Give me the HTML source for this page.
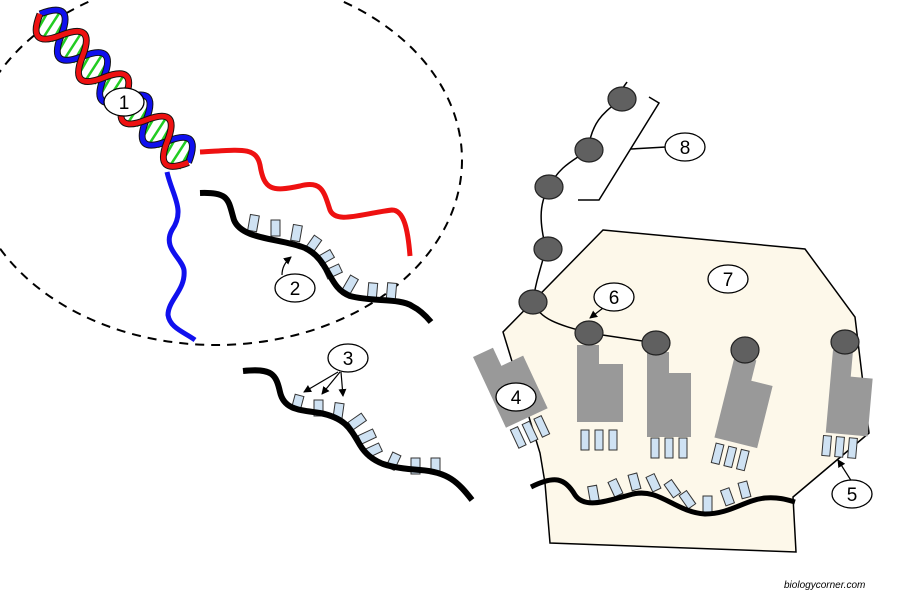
<!DOCTYPE html>
<html><head><meta charset="utf-8"><style>
html,body{margin:0;padding:0;background:#fff;width:900px;height:592px;overflow:hidden}
svg{display:block}
text{font-family:"Liberation Sans",sans-serif}
</style></head><body>
<svg width="900" height="592" viewBox="0 0 900 592" xmlns="http://www.w3.org/2000/svg">
<defs>
<marker id="ar" markerWidth="8" markerHeight="8" refX="7" refY="4" orient="auto" markerUnits="userSpaceOnUse"><path d="M0,0 L8,4 L0,8 Z" fill="#000"/></marker>
</defs>
<ellipse cx="216" cy="160" rx="246" ry="185" fill="none" stroke="#000" stroke-width="2" stroke-dasharray="9,7"/>

<!-- DNA helix -->
<g transform="translate(40,14) rotate(45)">
  <path d="M0,0 C10,23 20,23 30,0 S50,-23 60,0 S80,23 90,0 S110,-23 120,0 S140,23 150,0 S170,-23 180,0 S200,23 210,0 C200,-23 190,-23 180,0 S160,23 150,0 S130,-23 120,0 S100,23 90,0 S70,-23 60,0 S40,23 30,0 S10,-23 0,0 Z" fill="#fff"/>
  <g stroke="#22cc22" stroke-width="2.5">
    <line x1="3" y1="-11" x2="9" y2="11"/><line x1="13" y1="-14" x2="19" y2="14"/><line x1="22" y1="-11" x2="28" y2="11"/>
    <line x1="33" y1="-11" x2="39" y2="11"/><line x1="43" y1="-14" x2="49" y2="14"/><line x1="52" y1="-11" x2="58" y2="11"/>
    <line x1="63" y1="-11" x2="69" y2="11"/><line x1="73" y1="-14" x2="79" y2="14"/><line x1="82" y1="-11" x2="88" y2="11"/>
    <line x1="93" y1="-11" x2="99" y2="11"/><line x1="103" y1="-14" x2="109" y2="14"/><line x1="112" y1="-11" x2="118" y2="11"/>
    <line x1="123" y1="-11" x2="129" y2="11"/><line x1="133" y1="-14" x2="139" y2="14"/><line x1="142" y1="-11" x2="148" y2="11"/>
    <line x1="153" y1="-11" x2="159" y2="11"/><line x1="163" y1="-14" x2="169" y2="14"/><line x1="172" y1="-11" x2="178" y2="11"/>
    <line x1="183" y1="-11" x2="189" y2="11"/><line x1="193" y1="-14" x2="199" y2="14"/><line x1="202" y1="-11" x2="208" y2="11"/>
  </g>
  <path d="M0,0 C10,-23 20,-23 30,0 S50,23 60,0 S80,-23 90,0 S110,23 120,0 S140,-23 150,0 S170,23 180,0 S200,-23 210,0" fill="none" stroke="#111" stroke-width="7"/>
  <path d="M0,0 C10,-23 20,-23 30,0 S50,23 60,0 S80,-23 90,0 S110,23 120,0 S140,-23 150,0 S170,23 180,0 S200,-23 210,0" fill="none" stroke="#1010ee" stroke-width="5"/>
  <path d="M0,0 C10,23 20,23 30,0 S50,-23 60,0 S80,23 90,0 S110,-23 120,0 S140,23 150,0 S170,-23 180,0 S200,23 210,0" fill="none" stroke="#111" stroke-width="7"/>
  <path d="M0,0 C10,23 20,23 30,0 S50,-23 60,0 S80,23 90,0 S110,-23 120,0 S140,23 150,0 S170,-23 180,0 S200,23 210,0" fill="none" stroke="#ee1111" stroke-width="5"/>
</g>
<path d="M200,152 C240,150 256,146 260,165 C264,190 272,192 300,186 C322,180 324,192 330,210 C336,224 360,214 392,210 C404,210 408,230 410,256" fill="none" stroke="#ee1111" stroke-width="5"/>
<path d="M167,172 C172,195 186,210 172,230 C162,248 182,258 184,270 C186,290 168,300 168,315 C170,328 184,332 195,340" fill="none" stroke="#1010ee" stroke-width="5"/>

<g fill="#cfe2f3" stroke="#333" stroke-width="1">
<rect x="249" y="215" width="9" height="16" transform="rotate(10 253 223)"/>
<rect x="271" y="220" width="9" height="16"/>
<rect x="292" y="225" width="9" height="16" transform="rotate(10 296 233)"/>
<rect x="309" y="236" width="9" height="16" transform="rotate(35 313 244)"/>
<rect x="321" y="249" width="9" height="16" transform="rotate(60 325 257)"/>
<rect x="329" y="263" width="9" height="16" transform="rotate(65 333 271)"/>
<rect x="346" y="276" width="9" height="16" transform="rotate(30 350 284)"/>
<rect x="368" y="283" width="9" height="16" transform="rotate(5 372 291)"/>
<rect x="387" y="283" width="9" height="16" transform="rotate(5 391 291)"/>
</g>
<path d="M200,193 C230,192 228,200 234,220 C242,240 280,238 305,248 C330,260 328,288 350,296 C372,302 400,298 412,306 C420,310 426,316 431,322" fill="none" stroke="#000" stroke-width="6"/>

<g fill="#cfe2f3" stroke="#333" stroke-width="1">
<rect x="293" y="395" width="9" height="16" transform="rotate(15 297 403)"/>
<rect x="314" y="400" width="9" height="16"/>
<rect x="334" y="403" width="9" height="16" transform="rotate(8 338 411)"/>
<rect x="353" y="413" width="9" height="16" transform="rotate(55 357 421)"/>
<rect x="363" y="428" width="9" height="16" transform="rotate(65 367 436)"/>
<rect x="369" y="442" width="9" height="16" transform="rotate(65 373 450)"/>
<rect x="389" y="453" width="9" height="16" transform="rotate(25 393 461)"/>
<rect x="411" y="458" width="9" height="16"/>
<rect x="431" y="458" width="9" height="16"/>
</g>
<path d="M243,371 C272,368 276,374 280,392 C284,410 300,410 320,413 C345,418 350,428 360,445 C372,465 392,468 420,470 C448,472 458,482 472,500" fill="none" stroke="#000" stroke-width="6"/>

<polygon points="603,230 805,249 855,317 869,433 793,497 796,552 550,543 545,483 540,453 503,332" fill="#fdf8ea" stroke="#000" stroke-width="1.5"/>

<g fill="none" stroke="#000" stroke-width="1.5">
<path d="M622,90 C624,85 626,84 627,82"/>
<path d="M620,100 C605,112 592,120 588,150"/>
<path d="M588,150 C575,160 560,165 549,187"/>
<path d="M549,187 C538,205 540,225 546,249"/>
<path d="M546,249 C540,270 535,285 533,302"/>
<path d="M533,302 C540,320 560,325 589,333"/>
<path d="M589,333 L656,343"/>
<path d="M649,97 L659,103 L599,200 L578,200"/>
<path d="M631,149 L666,147"/>
</g>

<g fill="#999">
<path d="M0,0 H22 V19 H46 V77 H0 Z" transform="translate(577,345)"/>
<path d="M0,0 H22 V21 H44 V85 H0 Z" transform="translate(647,352)"/>
<path d="M0,0 H22 V21 H44 V85 H0 Z" transform="translate(735,355) rotate(14)"/>
<path d="M0,0 H22 V20 H46 V78 H0 Z" transform="translate(473,357) rotate(-25)"/>
<path d="M0,0 H20 V25 H42 V83 H0 Z" transform="translate(833,350) rotate(5)"/>
</g>
<g fill="#cfe2f3" stroke="#333" stroke-width="1">
<g transform="translate(577,345)"><rect x="4" y="85" width="8" height="20"/><rect x="18" y="85" width="8" height="20"/><rect x="32" y="85" width="8" height="20"/></g>
<g transform="translate(647,352)"><rect x="4" y="86" width="8" height="20"/><rect x="18" y="86" width="8" height="20"/><rect x="32" y="86" width="8" height="20"/></g>
<g transform="translate(735,355) rotate(14)"><rect x="3" y="90" width="8" height="20"/><rect x="16" y="90" width="8" height="20"/><rect x="29" y="90" width="8" height="20"/></g>
<g transform="translate(473,357) rotate(-25)"><rect x="3" y="82" width="8" height="20"/><rect x="16" y="82" width="8" height="20"/><rect x="29" y="82" width="8" height="20"/></g>
<g transform="translate(833,350) rotate(5)"><rect x="-2" y="86" width="8" height="20"/><rect x="11" y="86" width="8" height="20"/><rect x="24" y="86" width="8" height="20"/></g>
</g>

<g fill="#606060" stroke="#222" stroke-width="1.2">
<ellipse cx="622" cy="99" rx="14" ry="12"/>
<ellipse cx="589" cy="150" rx="14" ry="12"/>
<ellipse cx="549" cy="187" rx="14" ry="12"/>
<ellipse cx="548" cy="249" rx="14" ry="12"/>
<ellipse cx="533" cy="302" rx="14" ry="12"/>
<ellipse cx="589" cy="333" rx="14" ry="12"/>
<ellipse cx="656" cy="343" rx="14" ry="12"/>
<ellipse cx="745" cy="350" rx="14" ry="13"/>
<ellipse cx="845" cy="342" rx="14" ry="12"/>
</g>

<g fill="#cfe2f3" stroke="#333" stroke-width="1">
<rect x="589" y="486" width="9" height="16" transform="rotate(-10 593 494)"/>
<rect x="611" y="480" width="9" height="16" transform="rotate(-25 615 488)"/>
<rect x="630" y="474" width="9" height="16" transform="rotate(-15 634 482)"/>
<rect x="649" y="475" width="9" height="16" transform="rotate(-25 653 483)"/>
<rect x="668" y="481" width="9" height="16" transform="rotate(-35 672 489)"/>
<rect x="683" y="492" width="9" height="16" transform="rotate(-35 687 500)"/>
<rect x="703" y="496" width="9" height="16"/>
<rect x="723" y="489" width="9" height="16" transform="rotate(-20 727 497)"/>
<rect x="740" y="482" width="9" height="16" transform="rotate(-15 744 490)"/>
</g>
<path d="M531,487 C555,475 565,478 575,495 C585,510 610,500 633,494 C660,488 675,512 705,514 C730,514 745,500 765,498 C780,497 788,500 795,502" fill="none" stroke="#000" stroke-width="5"/>

<g stroke="#000" stroke-width="1.2" fill="none" marker-end="url(#ar)">
<path d="M282,275 C282,268 285,262 291,257"/>
<path d="M338,372 L304,392"/>
<path d="M340,372 L322,394"/>
<path d="M341,372 L343,396"/>
<path d="M607,305 L590,318"/>
<path d="M852,482 L838,460"/>
</g>

<g fill="#fff" stroke="#000" stroke-width="1.3">
<ellipse cx="124" cy="102" rx="20" ry="14"/>
<ellipse cx="295" cy="288" rx="20" ry="14"/>
<ellipse cx="348" cy="358" rx="20" ry="14"/>
<ellipse cx="516" cy="397" rx="20" ry="14"/>
<ellipse cx="852" cy="494" rx="20" ry="14"/>
<ellipse cx="614" cy="297" rx="20" ry="14"/>
<ellipse cx="728" cy="279" rx="20" ry="14"/>
<ellipse cx="685" cy="147" rx="20" ry="14"/>
</g>
<g font-size="19" text-anchor="middle" fill="#000">
<text x="124" y="109">1</text>
<text x="295" y="295">2</text>
<text x="348" y="365">3</text>
<text x="516" y="404">4</text>
<text x="852" y="501">5</text>
<text x="614" y="304">6</text>
<text x="728" y="286">7</text>
<text x="685" y="154">8</text>
</g>
<text x="784" y="588" font-size="10" font-style="italic" fill="#000">biologycorner.com</text>
</svg>
</body></html>
